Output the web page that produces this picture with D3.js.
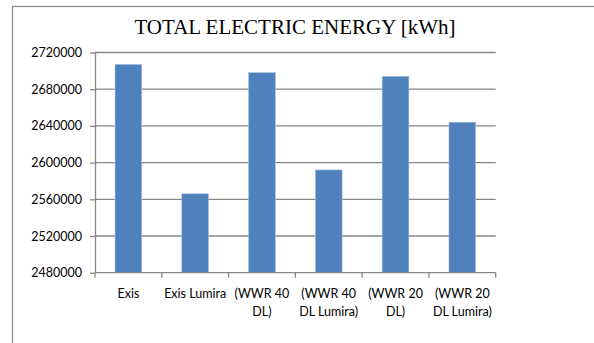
<!DOCTYPE html>
<html>
<head>
<meta charset="utf-8">
<script src="https://cdn.jsdelivr.net/npm/d3@7"></script>
<style>
  html, body { margin: 0; padding: 0; background: #fff; }
  svg { display: block; }
</style>
</head>
<body>
<svg id="chart" width="594" height="343"></svg>
<script>
// Scenario names (each split onto display lines) and total electric energy in kWh
const categories = [
  ["Exis"],
  ["Exis Lumira"],
  ["(WWR 40", "DL)"],
  ["(WWR 40", "DL Lumira)"],
  ["(WWR 20", "DL)"],
  ["(WWR 20", "DL Lumira)"]
];
const energyKWh = [2707000, 2566000, 2698000, 2592000, 2694000, 2644000];
const yTicks = [2480000, 2520000, 2560000, 2600000, 2640000, 2680000, 2720000];
const chartTitle = "TOTAL ELECTRIC ENERGY [kWh]";

const svg = d3.select("#chart");
const plot = { left: 95, right: 495.7, top: 52.5, bottom: 272.7 };
const gridColor = "#878787";

// Chart frame
svg.append("rect")
  .attr("x", 12.5).attr("y", 6.5)
  .attr("width", 700).attr("height", 500)
  .attr("fill", "none").attr("stroke", gridColor).attr("stroke-width", 1.2);

const keys = categories.map((c, i) => String(i));
const x = d3.scaleBand().domain(keys).range([plot.left, plot.right])
  .paddingInner(0.6).paddingOuter(0.3);
const y = d3.scaleLinear().domain([2480000, 2720000]).range([plot.bottom, plot.top]);

// Horizontal gridlines
svg.append("g").selectAll("line").data(yTicks.slice(1)).join("line")
  .attr("x1", plot.left).attr("x2", plot.right)
  .attr("y1", d => y(d)).attr("y2", d => y(d))
  .attr("stroke", gridColor).attr("stroke-width", 1.3);

// Y axis
const yAxis = svg.append("g")
  .attr("transform", `translate(${plot.left},0)`)
  .call(d3.axisLeft(y).tickValues(yTicks).tickFormat(d3.format("d"))
    .tickSize(5).tickPadding(8).tickSizeOuter(0));
yAxis.select(".domain").attr("stroke", gridColor).attr("stroke-width", 1.3);
yAxis.selectAll(".tick line").attr("stroke", gridColor).attr("stroke-width", 1.3);
yAxis.selectAll(".tick text")
  .attr("font-family", "Lato, 'Open Sans', sans-serif")
  .attr("font-size", 12.5).attr("fill", "#000");

// Bars
svg.append("g").selectAll("rect").data(energyKWh).join("rect")
  .attr("x", (d, i) => x(keys[i]))
  .attr("y", d => y(d))
  .attr("width", x.bandwidth())
  .attr("height", d => plot.bottom - y(d))
  .attr("fill", "#4f81bd")
  .attr("stroke", "#a6bfe0").attr("stroke-width", 0.6);

// X axis with ticks between categories
const bounds = d3.range(keys.length + 1).map(i => plot.left + i * x.step());
const xAxis = svg.append("g");
xAxis.append("line")
  .attr("x1", plot.left).attr("x2", plot.right)
  .attr("y1", plot.bottom).attr("y2", plot.bottom)
  .attr("stroke", gridColor).attr("stroke-width", 1.3);
xAxis.selectAll("line.tk").data(bounds).join("line").attr("class", "tk")
  .attr("x1", d => d).attr("x2", d => d)
  .attr("y1", plot.bottom).attr("y2", plot.bottom + 5)
  .attr("stroke", gridColor).attr("stroke-width", 1.3);

const labels = svg.append("g")
  .attr("font-family", "Lato, 'Open Sans', sans-serif")
  .attr("font-size", 12.5).attr("fill", "#000").attr("text-anchor", "middle");
categories.forEach((lines, i) => {
  const t = labels.append("text")
    .attr("x", x(keys[i]) + x.bandwidth() / 2)
    .attr("y", 297.5);
  lines.forEach((ln, j) => {
    t.append("tspan")
      .attr("x", x(keys[i]) + x.bandwidth() / 2)
      .attr("dy", j === 0 ? 0 : 18.5)
      .text(ln);
  });
});

// Title
svg.append("text")
  .attr("x", 295).attr("y", 33.5)
  .attr("text-anchor", "middle")
  .attr("font-family", "'Liberation Serif', 'Times New Roman', serif")
  .attr("font-size", 21).attr("fill", "#000")
  .text(chartTitle);
</script>
</body>
</html>
